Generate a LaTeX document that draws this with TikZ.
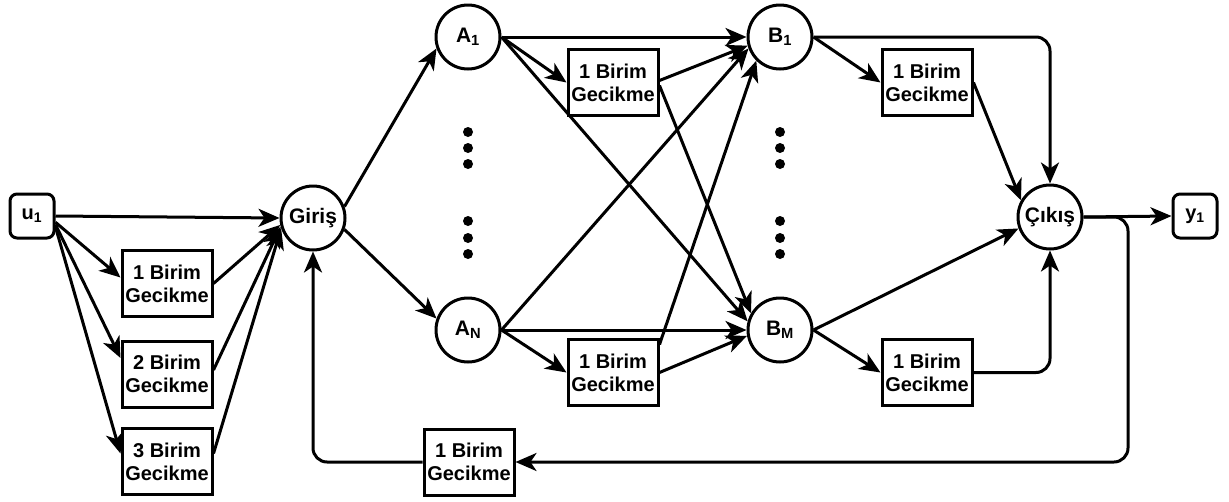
\documentclass[tikz,border=0pt]{standalone}
\usepackage{fontspec}
\setmainfont{Liberation Sans}
\usetikzlibrary{arrows.meta}
\begin{document}
\begin{tikzpicture}[x=1pt,y=-1pt]
\tikzset{
  txt/.style={font=\fontsize{20}{23}\selectfont\bfseries},
  ctxt/.style={font=\fontsize{21}{24}\selectfont\bfseries},
  circ/.style={circle, draw, line width=3pt, minimum size=64pt, inner sep=0pt, ctxt},
  delay/.style={rectangle, draw, line width=3pt, minimum width=90pt, minimum height=66pt, inner sep=0pt, align=center, txt},
  io/.style={rectangle, draw, rounded corners=7pt, line width=3pt, minimum width=44pt, minimum height=44pt, inner sep=0pt, txt},
  conn/.style={line width=3pt, -{Stealth[length=21pt,width=18pt,inset=6pt]}},
  dotn/.style={circle, fill, inner sep=0pt, minimum size=10pt}
}
\useasboundingbox (0,0) rectangle (1229,501);

% input / output
\node[io] (u1) at (32,216) {u\textsubscript{1}};
\node[io] (y1) at (1195,216) {y\textsubscript{1}};

% circles
\node[circ] (giris) at (313,218) {Giriş};
\node[circ] (A1) at (468,37) {A\textsubscript{1}};
\node[circ] (AN) at (468,330) {A\textsubscript{N}};
\node[circ] (B1) at (780,37) {B\textsubscript{1}};
\node[circ] (BM) at (780,330) {B\textsubscript{M}};
\node[circ] (cikis) at (1050,217) {Çıkış};

% delay boxes
\node[delay] (d1) at (167,283.5) {1 Birim\\Gecikme};
\node[delay] (d2) at (167,374) {2 Birim\\Gecikme};
\node[delay] (d3) at (167,461.5) {3 Birim\\Gecikme};
\node[delay] (dA1) at (613,82.5) {1 Birim\\Gecikme};
\node[delay] (dAN) at (613,372.5) {1 Birim\\Gecikme};
\node[delay] (dB1) at (927,82.5) {1 Birim\\Gecikme};
\node[delay] (dBM) at (927,372.5) {1 Birim\\Gecikme};
\node[delay] (dfb) at (469,462) {1 Birim\\Gecikme};

% dots
\node[dotn] (a1) at (468,132) {};
\node[dotn] (a2) at (468,148) {};
\node[dotn] (a3) at (468,164) {};
\node[dotn] (a4) at (468,221) {};
\node[dotn] (a5) at (468,238) {};
\node[dotn] (a6) at (468,254) {};
\node[dotn] (b1) at (780,132) {};
\node[dotn] (b2) at (780,148) {};
\node[dotn] (b3) at (780,164) {};
\node[dotn] (b4) at (780,221) {};
\node[dotn] (b5) at (780,238) {};
\node[dotn] (b6) at (780,254) {};

\coordinate (fbR) at (1128,462);

% left part
\draw[conn] (u1.east) -- (giris.west);
\draw[conn] (u1.-15) -- ([yshift=6pt]d1.west);
\draw[conn] (u1.-20) -- ([yshift=16pt]d2.west);
\draw[conn] (u1.-25) -- ([yshift=8pt]d3.west);
\draw[conn] (d1.east) -- (giris.192);
\draw[conn] ([yshift=4pt]d2.east) -- (giris.195);
\draw[conn] ([yshift=8pt]d3.east) -- (giris.198);

% giris to A
\draw[conn] (giris.20) -- (A1.200);
\draw[conn] (giris.-20) -- (AN.160);

% A1 outputs
\draw[conn] (A1.east) -- (B1.west);
\draw[conn] (A1.east) -- (dA1.west);
\draw[conn] (A1.east) -- (BM.165);
\draw[conn] ([yshift=2pt]dA1.east) -- (B1.195);
\draw[conn] ([yshift=-3pt]dA1.east) -- (BM.150);

% AN outputs
\draw[conn] (AN.east) -- (BM.west);
\draw[conn] (AN.east) -- (dAN.west);
\draw[conn] (AN.east) -- (B1.200);
\draw[conn] ([yshift=28pt]dAN.east) -- (B1.225);
\draw[conn] (dAN.east) -- (BM.190);

% B outputs
\draw[conn] (B1.east) -- (dB1.west);
\draw[conn, rounded corners=14pt] (B1.east) -| (cikis.north);
\draw[conn] (dB1.east) -- (cikis.150);
\draw[conn] (BM.east) -- (dBM.west);
\draw[conn] (BM.east) -- (cikis.200);
\draw[conn, rounded corners=14pt] (dBM.east) -| (cikis.south);

% output and feedback
\draw[conn] (cikis.east) -- (y1.west);
\draw[conn, rounded corners=14pt] (cikis.east) -| (fbR) -- (dfb.east);
\draw[conn, rounded corners=14pt] (dfb.west) -| (giris.south);
\end{tikzpicture}
\end{document}
